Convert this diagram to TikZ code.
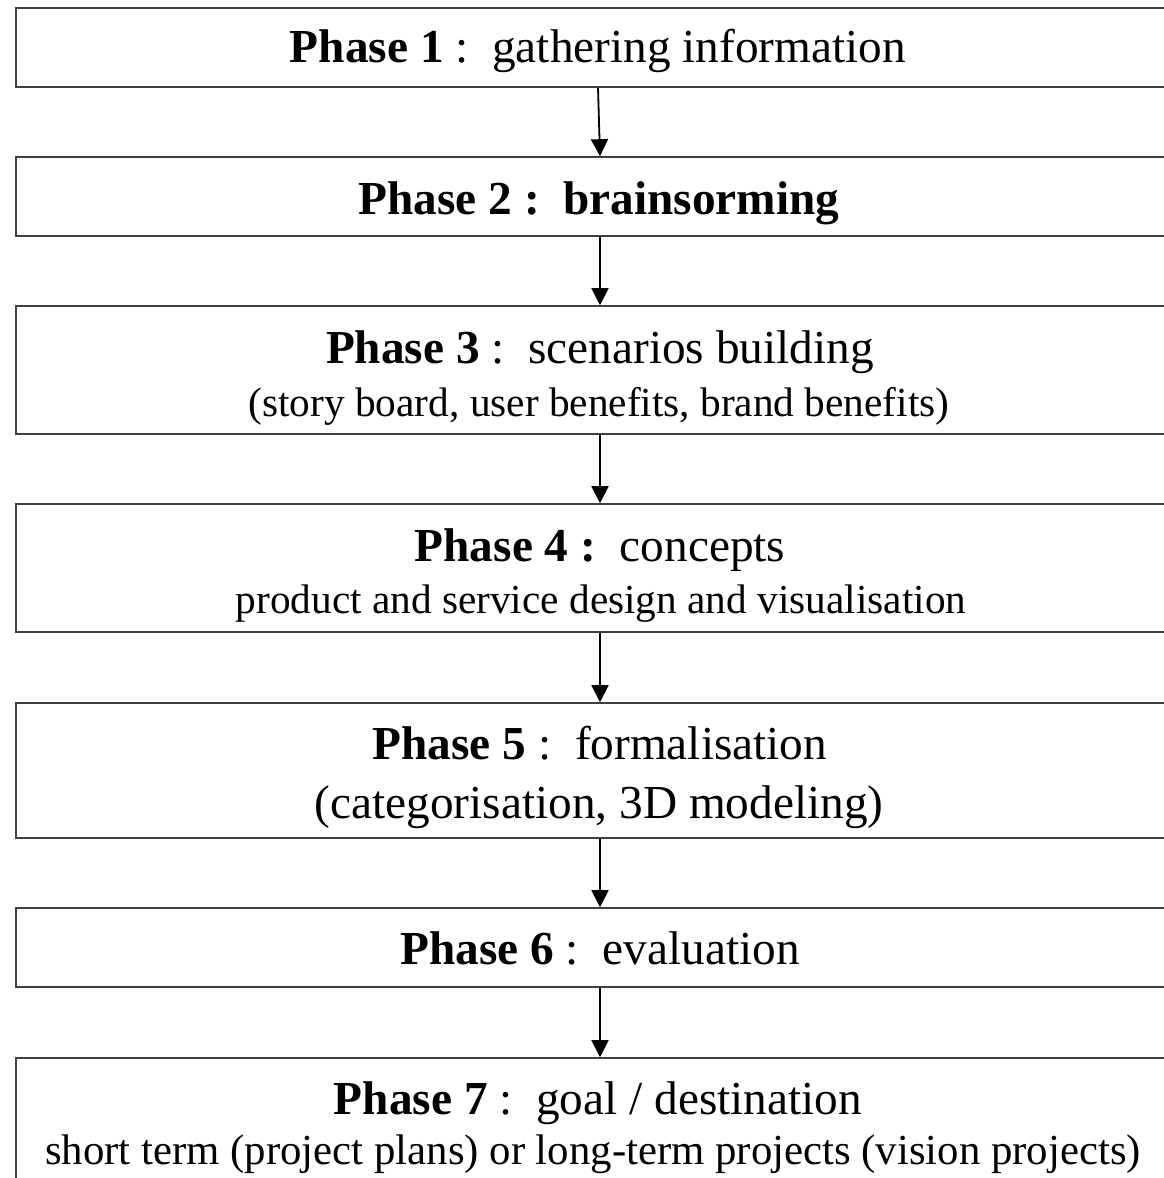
\documentclass[tikz,border=0pt]{standalone}
\usepackage{fontspec}
\setmainfont{Liberation Serif}
\usetikzlibrary{arrows.meta}
\begin{document}
\begin{tikzpicture}[x=1pt,y=-1pt,
  box/.style={draw=black!75,line width=1.6pt,rectangle,minimum width=1164pt,inner sep=0pt},
  big/.style={anchor=base,inner sep=0pt,font=\fontsize{47.3}{56}\selectfont},
  small/.style={anchor=base,inner sep=0pt,font=\fontsize{41.3}{48}\selectfont},
  arr/.style={line width=1.8pt,-{Triangle[length=17pt,width=17pt]}}]
\useasboundingbox (0,0) rectangle (1163,1178);
\node[box,minimum height=79pt] (b1) at (598,47.5) {};
\node[box,minimum height=79pt] (b2) at (598,196.5) {};
\node[box,minimum height=128pt] (b3) at (598,370) {};
\node[box,minimum height=128pt] (b4) at (598,568) {};
\node[box,minimum height=135pt] (b5) at (598,770.5) {};
\node[box,minimum height=79pt] (b6) at (598,947.5) {};
\node[box,minimum height=150pt] (b7) at (598,1133) {};
\coordinate (ax) at (600,0);
\node[big] (t1) at (598,62) {\textbf{Phase 1}~:~~gathering information};
\node[big] (t2) at (599,214) {\textbf{Phase 2 :~~brainsorming}};
\node[big] (t3) at (600,363) {\textbf{Phase 3}~:~~scenarios building};
\node[small] (s3) at (599,416) {(story board, user benefits, brand benefits)};
\node[big] (t4) at (600,561) {\textbf{Phase 4 :}~~concepts};
\node[small] (s4) at (601,613) {product and service design and visualisation};
\node[big] (t5) at (600,759) {\textbf{Phase 5}~:~~formalisation};
\node[big] (s5) at (599,818) {(categorisation, 3D modeling)};
\node[big] (t6) at (600,964) {\textbf{Phase 6}~:~~evaluation};
\node[big] (t7) at (598,1114) {\textbf{Phase 7}~:~~goal / destination};
\node[small,font=\fontsize{42.8}{48}\selectfont] (s7) at (593,1164) {short term (project plans) or long-term projects (vision projects)};
\draw[arr] (b1.south -| 598,0) -- (b2.north -| ax);
\draw[arr] (b2.south -| ax) -- (b3.north -| ax);
\draw[arr] (b3.south -| ax) -- (b4.north -| ax);
\draw[arr] (b4.south -| ax) -- (b5.north -| ax);
\draw[arr] (b5.south -| ax) -- (b6.north -| ax);
\draw[arr] (b6.south -| ax) -- (b7.north -| ax);
\end{tikzpicture}
\end{document}
